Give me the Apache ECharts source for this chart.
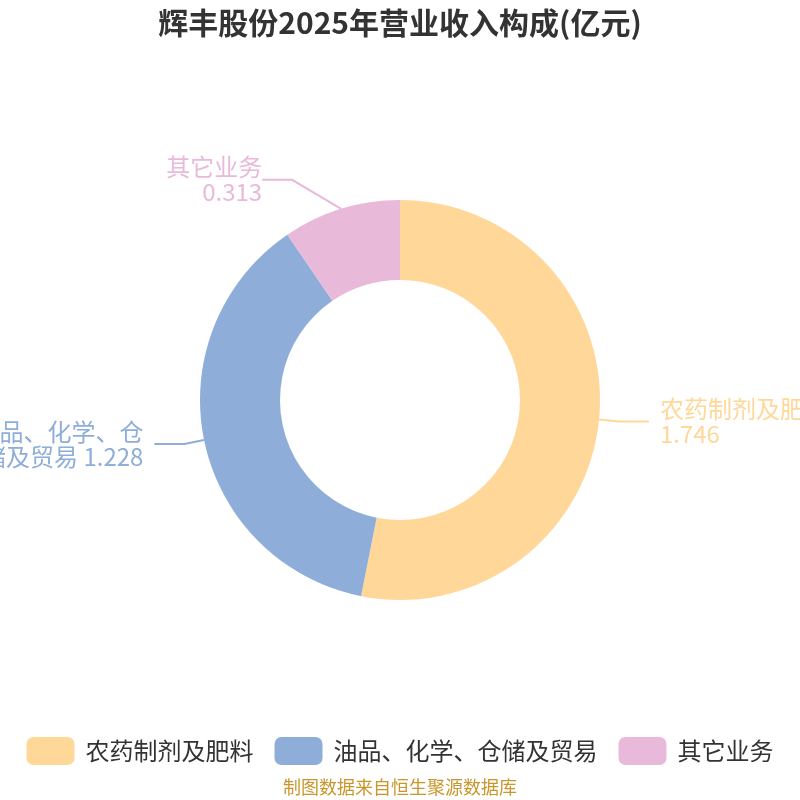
<!DOCTYPE html>
<html>
<head>
<meta charset="utf-8">
<title>辉丰股份2025年营业收入构成</title>
<script src="https://cdn.jsdelivr.net/npm/echarts@6/dist/echarts.min.js"></script>
<style>
  html, body { margin: 0; padding: 0; background: #fff; }
  #main { width: 800px; height: 800px; }
</style>
</head>
<body>
<div id="main"></div>
<script>
var names = ['农药制剂及肥料', '油品、化学、仓储及贸易', '其它业务'];
var values = [1.746, 1.228, 0.313];
var colors = ['#ffd899', '#8eaed9', '#e8b9d9'];

// long names get cut every 7 chars, value goes on the last line
var labelText = function(p) {
    var n = p.name;
    if (n.length > 7) {
        return n.slice(0, 7) + '\n' + n.slice(7) + ' ' + p.value;
    }
    return n + '\n' + p.value;
};

var pieData = [];
for (var i = 0; i < names.length; i++) {
    pieData.push({
        name: names[i],
        value: values[i],
        itemStyle: { color: colors[i] },
        label: { color: colors[i] },
        labelLine: { lineStyle: { color: colors[i] } }
    });
}

var chart = echarts.init(document.getElementById('main'));
var option = {
    backgroundColor: '#fff',
    title: {
        text: '辉丰股份2025年营业收入构成(亿元)',
        left: 'center',
        top: 3,
        textStyle: {
            fontSize: 30,
            fontWeight: 'bold',
            color: '#333',
            fontFamily: 'Noto Sans CJK SC'
        }
    },
    legend: {
        bottom: 30,
        left: 'center',
        itemWidth: 48,
        itemHeight: 28,
        itemGap: 21,
        icon: 'roundRect',
        textStyle: {
            fontSize: 24,
            color: '#333',
            fontFamily: 'Noto Sans CJK SC',
            padding: [0, 0, 0, 6]
        },
        data: names
    },
    graphic: [{
        type: 'text',
        left: 'center',
        top: 778,
        style: {
            text: '制图数据来自恒生聚源数据库',
            fontSize: 18,
            fill: '#c9962b',
            fontFamily: 'Noto Sans CJK SC'
        }
    }],
    series: [{
        type: 'pie',
        center: [400, 400],
        radius: [120, 200],
        startAngle: 90,
        clockwise: true,
        avoidLabelOverlap: true,
        label: {
            show: true,
            position: 'outside',
            formatter: labelText,
            fontSize: 24,
            lineHeight: 25,
            overflow: 'none',
            fontFamily: 'Noto Sans CJK SC',
            distanceToLabelLine: 11
        },
        labelLine: {
            show: true,
            length: 20,
            length2: 30,
            lineStyle: { width: 2 }
        },
        // the small slice's label sits a bit higher and further out,
        // giving x/y makes echarts redraw its line to the new spot
        labelLayout: function(p) {
            if (p.dataIndex == 2) {
                var r = p.labelRect;
                return { x: r.x + r.width - 32, y: r.y + r.height / 2 - 10 };
            }
        },
        emphasis: { scale: false },
        data: pieData
    }]
};
chart.setOption(option);
</script>
</body>
</html>
